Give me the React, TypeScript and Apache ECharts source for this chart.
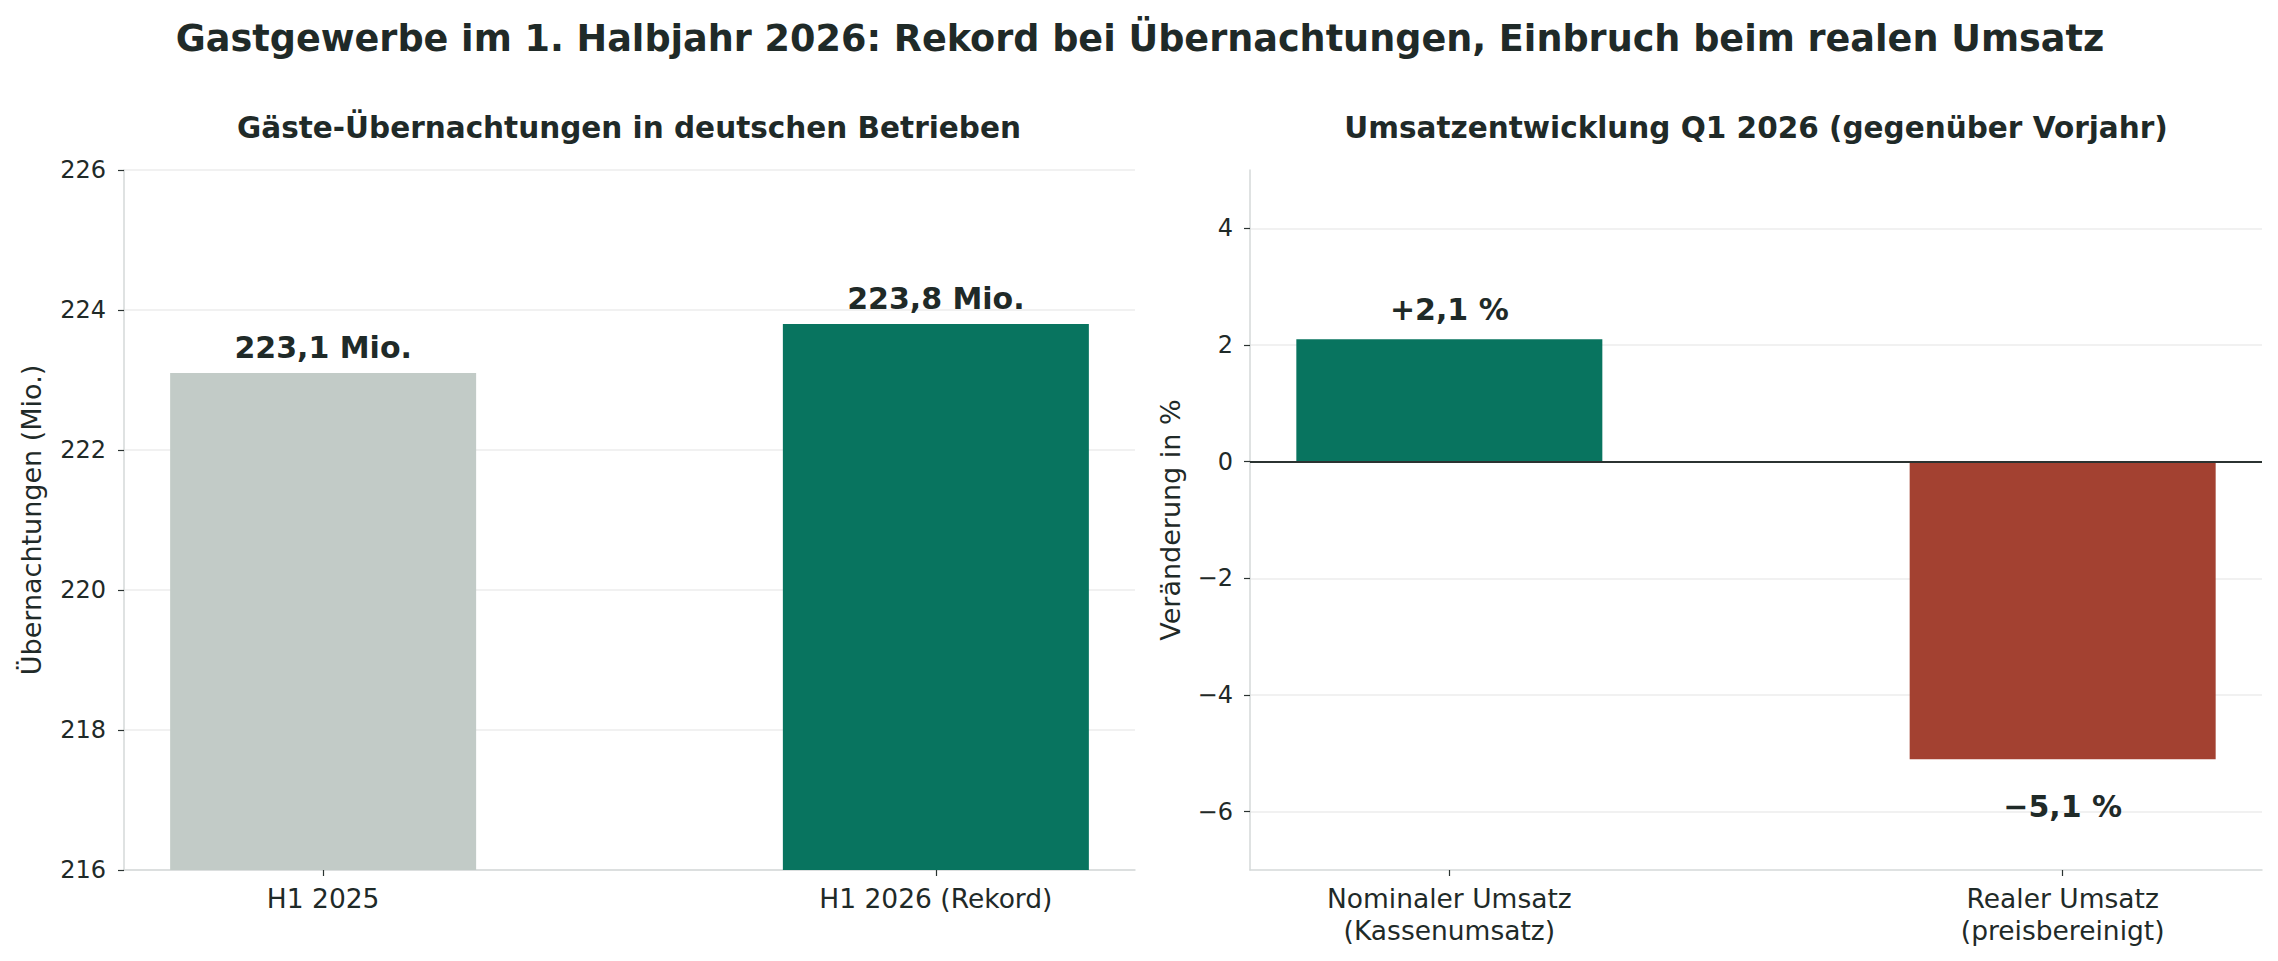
import { useEffect, useRef } from "react";
import * as echarts from "echarts";

// Linkes Panel: Übernachtungen
const stayCategories = ["H1 2025", "H1 2026 (Rekord)"];
const stayValues = [223.1, 223.8];
const stayColors = ["#c2cbc7", "#08745f"];

// Rechtes Panel: Umsatz
const salesCategories = ["Nominaler Umsatz\n(Kassenumsatz)", "Realer Umsatz\n(preisbereinigt)"];
const salesValues = [2.1, -5.1];
const salesColors = ["#08745f", "#a34131"];
const salesTicks = [-6, -4, -2, 0, 2, 4];

const TEXT = "#1f2a28";
const FONT = "DejaVu Sans";

const deNum = (v: number) => v.toFixed(1).replace(".", ",");
const minus = (v: number) => (v < 0 ? "\u2212" + Math.abs(v) : String(v));
const pct = (v: number) => `${v < 0 ? "\u2212" : "+"}${deNum(Math.abs(v))} %`;

export default function App() {
  const ref = useRef<HTMLDivElement>(null);

  useEffect(() => {
    document.body.style.margin = "0";
    if (!ref.current) return;
    const chart = echarts.init(ref.current, null, { renderer: "svg" });

    const axisLineStyle = { color: "#d5d9d9", width: 1.5 };
    const tickStyle = { show: true, length: 6, lineStyle: { color: "#2b3331", width: 1.2 } };
    const yLabelStyle = { color: TEXT, fontSize: 24, fontFamily: FONT };
    const xLabelStyle = { color: TEXT, fontSize: 26.5, fontFamily: FONT };
    const nameStyle = { color: TEXT, fontSize: 27, fontFamily: FONT };
    const valueLabel = { show: true, color: TEXT, fontSize: 30, fontWeight: "bold" as const, fontFamily: FONT };

    const xAxisFor = (grid: number, cats: string[]) => ({
      type: "value", gridIndex: grid, min: -0.325, max: 1.325,
      splitLine: { show: false },
      axisLine: { show: true, onZero: false, lineStyle: axisLineStyle },
      axisTick: { ...tickStyle, customValues: [0, 1] },
      axisLabel: {
        ...xLabelStyle, margin: 12, lineHeight: 32, customValues: [0, 1],
        formatter: (v: number) => cats[Math.round(v)] ?? "",
      },
    });

    // Ersatz: unsichtbare Punkte mit Beschriftung, falls convertToPixel nicht klappt
    const salesLabelSeries = (positive: boolean) => ({
      type: "scatter", xAxisIndex: 1, yAxisIndex: 1, symbolSize: 1, silent: true,
      itemStyle: { color: "transparent", opacity: 1 },
      data: salesValues.map((v, i) => ((v >= 0) === positive ? [i, v] : [i, "-"])),
      label: {
        ...valueLabel, position: "inside", offset: [0, positive ? -29.5 : 47],
        formatter: (p: any) => pct(p.value[1]),
      },
    });

    chart.setOption({
      backgroundColor: "#ffffff",
      animation: false,
      title: [
        {
          text: "Gastgewerbe im 1. Halbjahr 2026: Rekord bei Übernachtungen, Einbruch beim realen Umsatz",
          left: 1140, top: 38, padding: 0, textAlign: "center", textVerticalAlign: "middle",
          textStyle: { color: TEXT, fontSize: 36.6, fontWeight: "bold", fontFamily: FONT },
        },
        {
          text: "Gäste-Übernachtungen in deutschen Betrieben",
          left: 629, top: 128, padding: 0, textAlign: "center", textVerticalAlign: "middle",
          textStyle: { color: TEXT, fontSize: 29.5, fontWeight: "bold", fontFamily: FONT },
        },
        {
          text: "Umsatzentwicklung Q1 2026 (gegenüber Vorjahr)",
          left: 1756, top: 128, padding: 0, textAlign: "center", textVerticalAlign: "middle",
          textStyle: { color: TEXT, fontSize: 29.5, fontWeight: "bold", fontFamily: FONT },
        },
      ],
      grid: [
        { left: 124, top: 170, width: 1011, height: 700 },
        { left: 1250, top: 170, width: 1012, height: 700 },
      ],
      xAxis: [xAxisFor(0, stayCategories), xAxisFor(1, salesCategories)],
      yAxis: [
        {
          type: "value", gridIndex: 0, min: 216, max: 226, interval: 2,
          name: "Übernachtungen (Mio.)", nameLocation: "middle", nameGap: 79, nameRotate: 90,
          nameTextStyle: nameStyle,
          axisLine: { show: true, onZero: false, lineStyle: axisLineStyle },
          axisTick: tickStyle,
          axisLabel: { ...yLabelStyle, margin: 18 },
          splitLine: { lineStyle: { color: "#ececec", width: 1.5 } },
        },
        {
          type: "value", gridIndex: 1, min: -7, max: 5,
          name: "Veränderung in %", nameLocation: "middle", nameGap: 66, nameRotate: 90,
          nameTextStyle: nameStyle,
          axisLine: { show: true, onZero: false, lineStyle: axisLineStyle },
          axisTick: { ...tickStyle, customValues: salesTicks },
          axisLabel: { ...yLabelStyle, margin: 17, customValues: salesTicks, formatter: minus },
          splitLine: { lineStyle: { color: "#ececec", width: 1.5 } },
        },
      ],
      series: [
        {
          type: "bar", xAxisIndex: 0, yAxisIndex: 0, barWidth: 306,
          data: stayValues.map((v, i) => ({
            value: [i, v],
            itemStyle: { color: stayColors[i] },
          })),
          label: {
            ...valueLabel, position: "top", distance: 11,
            formatter: (p: any) => `${deNum(p.value[1])} Mio.`,
          },
        },
        {
          type: "bar", xAxisIndex: 1, yAxisIndex: 1, barWidth: 306,
          data: salesValues.map((v, i) => ({
            value: [i, v],
            itemStyle: { color: salesColors[i] },
          })),
          markLine: {
            silent: true, symbol: "none", animation: false,
            label: { show: false },
            lineStyle: { color: "#2b3331", width: 2, type: "solid" },
            data: [{ yAxis: 0 }],
          },
        },
      ],
    });

    // Prozent-Beschriftungen über die Achsen-Skala der rechten Grafik platzieren
    let placed = false;
    try {
      const pts = salesValues.map((v, i) =>
        chart.convertToPixel({ xAxisIndex: 1, yAxisIndex: 1 } as any, [i, v]) as unknown as number[]
      );
      if (pts.every(p => Array.isArray(p) && isFinite(p[0]) && isFinite(p[1]))) {
        chart.setOption({
          graphic: pts.map((p, i) => ({
            type: "text",
            x: p[0],
            y: p[1] + (salesValues[i] < 0 ? 47 : -29.5),
            silent: true,
            style: {
              text: pct(salesValues[i]),
              fill: TEXT,
              fontSize: 30,
              fontWeight: "bold",
              fontFamily: FONT,
              align: "center",
              verticalAlign: "middle",
            },
          })),
        });
        placed = true;
      }
    } catch (e) {
      placed = false;
    }
    if (!placed) {
      chart.setOption({
        series: [{}, {}, salesLabelSeries(true), salesLabelSeries(false)],
      });
    }

    return () => chart.dispose();
  }, []);

  return <div ref={ref} style={{ width: 2278, height: 961 }} />;
}
